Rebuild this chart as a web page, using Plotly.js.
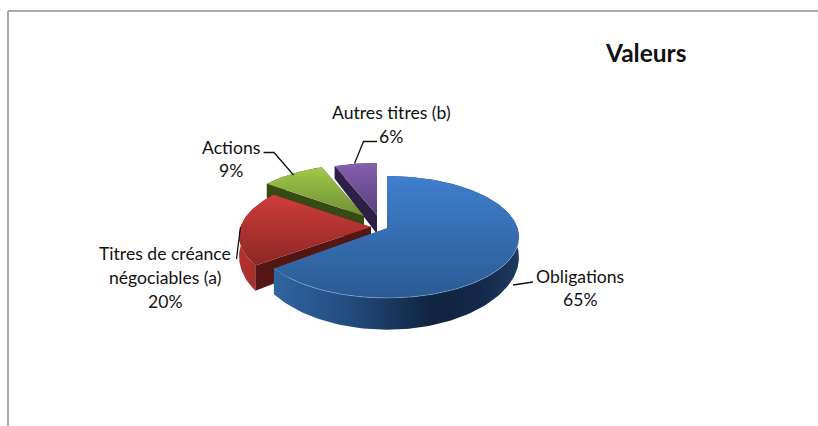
<!DOCTYPE html>
<html><head><meta charset="utf-8">
<script src="https://cdn.plot.ly/plotly-3.0.1.min.js"></script>
<style>html,body{margin:0;padding:0;background:#fff}#c{width:818px;height:426px}</style>
</head><body><div id="c"></div>
<script>
const categories = ["Obligations", "Titres de créance|négociables (a)", "Actions", "Autres titres (b)"];
const values = [65, 20, 9, 6];
const chartTitle = "Valeurs";

// Presentation (not data)
const apexes = [[387,228],[371,227],[364,216],[377,215]];
const RX = 130.5, RY = 59.67, K = 0.1475, DEPTH = 19, DP = 3.2;
const endTrim = [0.035, 0, 0, 0];
const topColors = [["#3f7fce","#2b5a92"],["#cf3d39","#8c2725"],["#a2c94a","#6f8f33"],["#8460ae","#5a3f7c"]];
const wallColors = [
  [[0,"#2f659f"],[0.3,"#234d80"],[0.65,"#10233f"],[0.85,"#14294a"],[1,"#1d3a62"]],
  [[0,"#b0322e"],[0.6,"#a62d2a"],[1,"#8a2421"]],
  [[0,"#4d6a20"],[1,"#3d5419"]],
  [[0,"#3f2c60"],[1,"#33244f"]]];
const radialColors = [null, "#541613", "#364a15", "#2c2046"];
const labelPos = [[580,[276,299]],[165,[253,277,301]],[231,[147,170]],[391,[112,136]]];
const leaders = [
  [[533,513],[282,285]],
  [[240.5,236.5],[227,259]],
  [[263.5,274,293.5],[152.5,152.5,175]],
  [[377,363.5,354.5],[141.5,141.5,163.5]]];

function pt(a, th, down) {
  const u = Math.sin(th), v = Math.cos(th), w = 1 + K*v;
  const x = a[0] + RX*u/w;
  let y = a[1] - RY*v/w;
  if (down) y += DEPTH/Math.pow(w, DP);
  return [x, y];
}
function arc(a, t0, t1, down) {
  const out = [];
  const n = Math.max(8, Math.ceil(Math.abs(t1-t0)*40));
  for (let i=0;i<=n;i++) out.push(pt(a, t0+(t1-t0)*i/n, down));
  return out;
}
function apexPt(a, down){ return [a[0], a[1] + (down?DEPTH:0)]; }
function poly(pts, extra){
  return Object.assign({x:pts.map(p=>p[0]).concat(pts[0][0]), y:pts.map(p=>p[1]).concat(pts[0][1]),
    mode:'lines', fill:'toself', line:{width:0}, hoverinfo:'skip', showlegend:false, type:'scatter'}, extra);
}

const total = values.reduce((s,v)=>s+v,0);
const angles = [0];
values.forEach(v=>angles.push(angles[angles.length-1] + v/total*2*Math.PI));

const traces = [];
for (let i=values.length-1;i>=0;i--) {
  const a = apexes[i], t0 = angles[i], t1 = angles[i+1] - endTrim[i];
  const topEdge = arc(a,t0,t1,false), lowEdge = arc(a,t0,t1,true);
  const xs = topEdge.map(p=>p[0]);
  // outer wall
  traces.push(poly(topEdge.concat(lowEdge.slice().reverse()), {
    fillgradient:{type:'horizontal', colorscale:wallColors[i], start:Math.min(...xs), stop:Math.max(...xs)}}));
  // radial walls
  if (radialColors[i]) [t0,t1].forEach(t=>{
    traces.push(poly([apexPt(a,false), pt(a,t,false), pt(a,t,true), apexPt(a,true)], {fillcolor:radialColors[i]}));
  });
  // top face
  const facePts = [apexPt(a,false)].concat(topEdge);
  const ys = facePts.map(p=>p[1]);
  traces.push(poly(facePts, {
    fillgradient:{type:'vertical', colorscale:[[0,topColors[i][0]],[1,topColors[i][1]]], start:Math.min(...ys), stop:Math.max(...ys)}}));
}
// soft light rim along the front of the first slice
const rim = arc(apexes[0], 1.75, angles[1]-endTrim[0], false);
traces.push({x:rim.map(p=>p[0]), y:rim.map(p=>p[1]), mode:'lines', type:'scatter',
  line:{color:'rgba(150,190,235,0.45)', width:1}, hoverinfo:'skip', showlegend:false});
// leader lines
leaders.forEach(l=>traces.push({x:l[0], y:l[1], mode:'lines', type:'scatter',
  line:{color:'#111', width:1.3}, hoverinfo:'skip', showlegend:false}));

const annotations = [];
categories.forEach((c,i)=>{
  const lines = c.split('|').concat(Math.round(values[i]/total*100)+'%');
  lines.forEach((t,j)=>annotations.push({x:labelPos[i][0], y:labelPos[i][1][j], xref:'x', yref:'y', text:t,
    showarrow:false, xanchor:'center', yanchor:'middle', font:{family:'Lato, sans-serif', size:17.6, color:'#111'}}));
});
annotations.push({x:645, y:52, xref:'x', yref:'y', text:'<b>'+chartTitle+'</b>', showarrow:false,
  xanchor:'center', yanchor:'middle', font:{family:'Lato, sans-serif', size:24.5, color:'#111'}});

const layout = {
  width:818, height:426, margin:{l:0,r:0,t:0,b:0},
  paper_bgcolor:'#fff', plot_bgcolor:'#fff', showlegend:false,
  xaxis:{range:[0,818], visible:false, fixedrange:true},
  yaxis:{range:[426,0], visible:false, fixedrange:true},
  annotations,
  shapes:[
    {type:'line', xref:'x', yref:'y', x0:8, x1:8, y0:11, y1:426, line:{color:'#8f8f8f', width:1.5}},
    {type:'line', xref:'x', yref:'y', x0:8, x1:818, y0:11, y1:11, line:{color:'#8f8f8f', width:1.5}}
  ]
};
Plotly.newPlot('c', traces, layout, {staticPlot:true, displayModeBar:false});
</script></body></html>
